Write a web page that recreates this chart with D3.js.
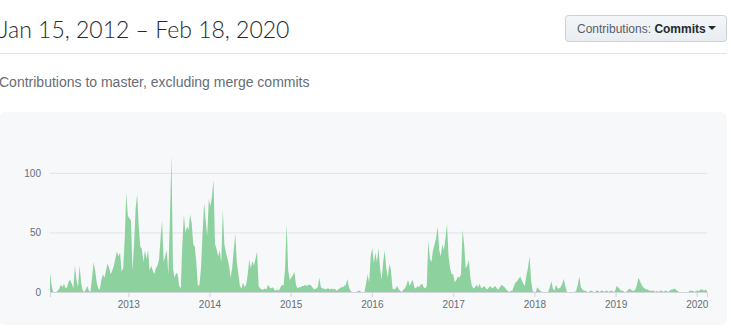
<!DOCTYPE html>
<html>
<head>
<meta charset="utf-8">
<script src="https://cdnjs.cloudflare.com/ajax/libs/d3/7.8.5/d3.min.js"></script>
<style>
  body { margin: 0; background: #fff; }
  svg { display: block; font-family: "Liberation Sans", Arial, sans-serif; }
</style>
</head>
<body>
<div id="chart"></div>
<script>
// weekly commit counts, one array per calendar year (weeks starting Jan 15, 2012)
const commits2012 = [16, 6, 0, 0, 0, 1, 3, 6, 4, 7, 3, 4, 9, 10, 7, 3, 22, 10, 4, 22, 8, 1, 0, 2, 5, 1, 0, 12, 25, 18, 8, 3, 2, 10, 15, 12, 18, 24, 20, 15, 18, 22, 28, 34, 30, 33, 17, 20, 45, 83, 64];
const commits2013 = [62, 60, 18, 40, 70, 82, 55, 38, 36, 25, 35, 28, 35, 18, 22, 18, 15, 20, 22, 27, 45, 60, 25, 30, 35, 15, 60, 115, 20, 12, 16, 15, 5, 3, 40, 65, 50, 55, 52, 65, 58, 40, 38, 25, 5, 6, 20, 50, 75, 60, 47, 78];
const commits2014 = [72, 80, 94, 40, 36, 30, 35, 25, 69, 40, 33, 28, 22, 12, 20, 35, 49, 25, 15, 5, 3, 8, 4, 6, 15, 27, 20, 26, 22, 28, 34, 5, 3, 2, 2, 3, 2, 6, 4, 3, 4, 2, 1, 2, 1, 4, 6, 5, 20, 57, 18, 10];
const commits2015 = [12, 14, 17, 6, 3, 4, 4, 5, 5, 6, 5, 6, 6, 5, 3, 2, 3, 4, 12, 4, 3, 3, 2, 3, 3, 2, 3, 2, 3, 1, 2, 3, 4, 4, 5, 6, 11, 4, 1, 0, 0, 0, 0, 1, 1, 0, 0, 0, 7, 15, 8, 30];
const commits2016 = [37, 24, 33, 25, 37, 20, 10, 25, 35, 20, 12, 24, 18, 3, 2, 3, 5, 2, 1, 0, 2, 3, 6, 10, 5, 8, 10, 4, 3, 5, 4, 6, 7, 4, 3, 5, 43, 28, 25, 35, 40, 45, 55, 35, 30, 40, 35, 45, 57, 30, 20, 15];
const commits2017 = [15, 8, 10, 13, 12, 15, 52, 40, 20, 22, 27, 12, 5, 3, 4, 6, 4, 7, 3, 4, 5, 3, 2, 4, 5, 3, 4, 5, 3, 2, 4, 6, 5, 4, 2, 1, 0, 1, 1, 5, 8, 9, 11, 13, 10, 7, 5, 14, 20, 30, 10, 1, 0];
const commits2018 = [0, 4, 2, 1, 0, 0, 0, 0, 0, 4, 9, 3, 1, 6, 3, 3, 4, 7, 11, 5, 0, 0, 0, 0, 0, 0, 1, 6, 13, 4, 2, 1, 1, 0, 0, 1, 1, 0, 0, 1, 1, 0, 1, 1, 0, 1, 1, 0, 1, 1, 0, 1];
const commits2019 = [5, 4, 2, 1, 1, 0, 0, 1, 3, 2, 1, 1, 2, 6, 12, 9, 6, 4, 3, 2, 2, 1, 1, 1, 1, 0, 1, 0, 1, 1, 0, 1, 1, 0, 1, 2, 2, 3, 2, 1, 0, 0, 0, 0, 0, 0, 0, 1, 1, 1, 0, 1];
const commits2020 = [1, 1, 2, 2, 1, 2, 1];

const yTicks = [0, 50, 100];
const titleText = 'Jan 15, 2012 \u2013 Feb 18, 2020';
const subtitleText = 'Contributions to master, excluding merge commits';

const width = 731;
const height = 331;
const plot = {left: 50, right: 707, top: 155, bottom: 292};

const startDate = new Date(2012, 0, 15);
const commits = [].concat(commits2012, commits2013, commits2014, commits2015,
  commits2016, commits2017, commits2018, commits2019, commits2020);
const weeks = commits.map((v, i) => ({date: d3.timeWeek.offset(startDate, i), value: v}));

const svg = d3.select('#chart')
  .append('svg')
    .attr('width', width)
    .attr('height', height);

// header
svg.append('text')
  .attr('x', -1)
  .attr('y', 38)
  .attr('font-family', 'Lato, "Open Sans", sans-serif')
  .attr('font-size', 23)
  .attr('font-weight', 300)
  .attr('fill', '#24292e')
  .text(titleText);

svg.append('line')
  .attr('x1', 0).attr('x2', 727)
  .attr('y1', 53.5).attr('y2', 53.5)
  .attr('stroke', '#e1e4e8');

const btn = svg.append('g').attr('transform', 'translate(565, 15)');
const grad = svg.append('defs').append('linearGradient')
  .attr('id', 'btnGrad')
  .attr('x1', 0).attr('y1', 0).attr('x2', 0).attr('y2', 1);
grad.append('stop').attr('offset', '0%').attr('stop-color', '#f4f6f8');
grad.append('stop').attr('offset', '100%').attr('stop-color', '#e9edf1');
btn.append('rect')
  .attr('x', 0.5).attr('y', 0.5)
  .attr('width', 161).attr('height', 26)
  .attr('rx', 3)
  .attr('fill', 'url(#btnGrad)')
  .attr('stroke', '#cdd1d5');
const btnText = btn.append('text')
  .attr('x', 12)
  .attr('y', 17.5)
  .attr('font-size', 12)
  .attr('fill', '#586069');
btnText.append('tspan').text('Contributions: ');
btnText.append('tspan').attr('fill', '#24292e').attr('font-weight', 600).text('Commits');
btn.append('path')
  .attr('d', 'M143,11 L151,11 L147,15 Z')
  .attr('fill', '#24292e');

svg.append('text')
  .attr('x', -1)
  .attr('y', 87)
  .attr('font-size', 14)
  .attr('fill', '#666d75')
  .text(subtitleText);

// chart panel
svg.append('rect')
  .attr('x', -1).attr('y', 112)
  .attr('width', 728).attr('height', 213)
  .attr('rx', 6)
  .attr('fill', '#f6f8fa');

const xScale = d3.scaleTime()
  .domain([startDate, weeks[weeks.length - 1].date])
  .range([plot.left, plot.right]);

const yScale = d3.scaleLinear()
  .domain([0, d3.max(commits)])
  .range([plot.bottom, plot.top]);

// grid + y labels
const yAxis = svg.append('g')
  .attr('transform', `translate(${plot.left}, 0)`)
  .call(d3.axisLeft(yScale).tickValues(yTicks).tickSize(-(plot.right - plot.left)).tickPadding(9));
yAxis.select('.domain').remove();
yAxis.selectAll('.tick line').attr('stroke', '#e1e4e8');
yAxis.selectAll('.tick text')
  .attr('font-size', 10)
  .attr('fill', '#666d75')
  .attr('font-family', '"Liberation Sans", Arial, sans-serif');

const area = d3.area()
  .x((d) => xScale(d.date))
  .y0(yScale(0))
  .y1((d) => yScale(d.value));

svg.append('path')
  .datum(weeks)
  .attr('fill', '#8dd19e')
  .attr('d', area);

const xAxis = svg.append('g')
  .attr('transform', `translate(0, ${plot.bottom})`)
  .call(d3.axisBottom(xScale).ticks(d3.timeYear.every(1)).tickFormat(d3.timeFormat('%Y')).tickSize(5).tickPadding(4));
xAxis.select('.domain').attr('stroke', '#d1d5da');
xAxis.selectAll('.tick line').attr('stroke', '#d1d5da');
xAxis.selectAll('.tick text')
  .attr('font-size', 10)
  .attr('fill', '#666d75')
  .attr('font-family', '"Liberation Sans", Arial, sans-serif');
</script>
</body>
</html>
